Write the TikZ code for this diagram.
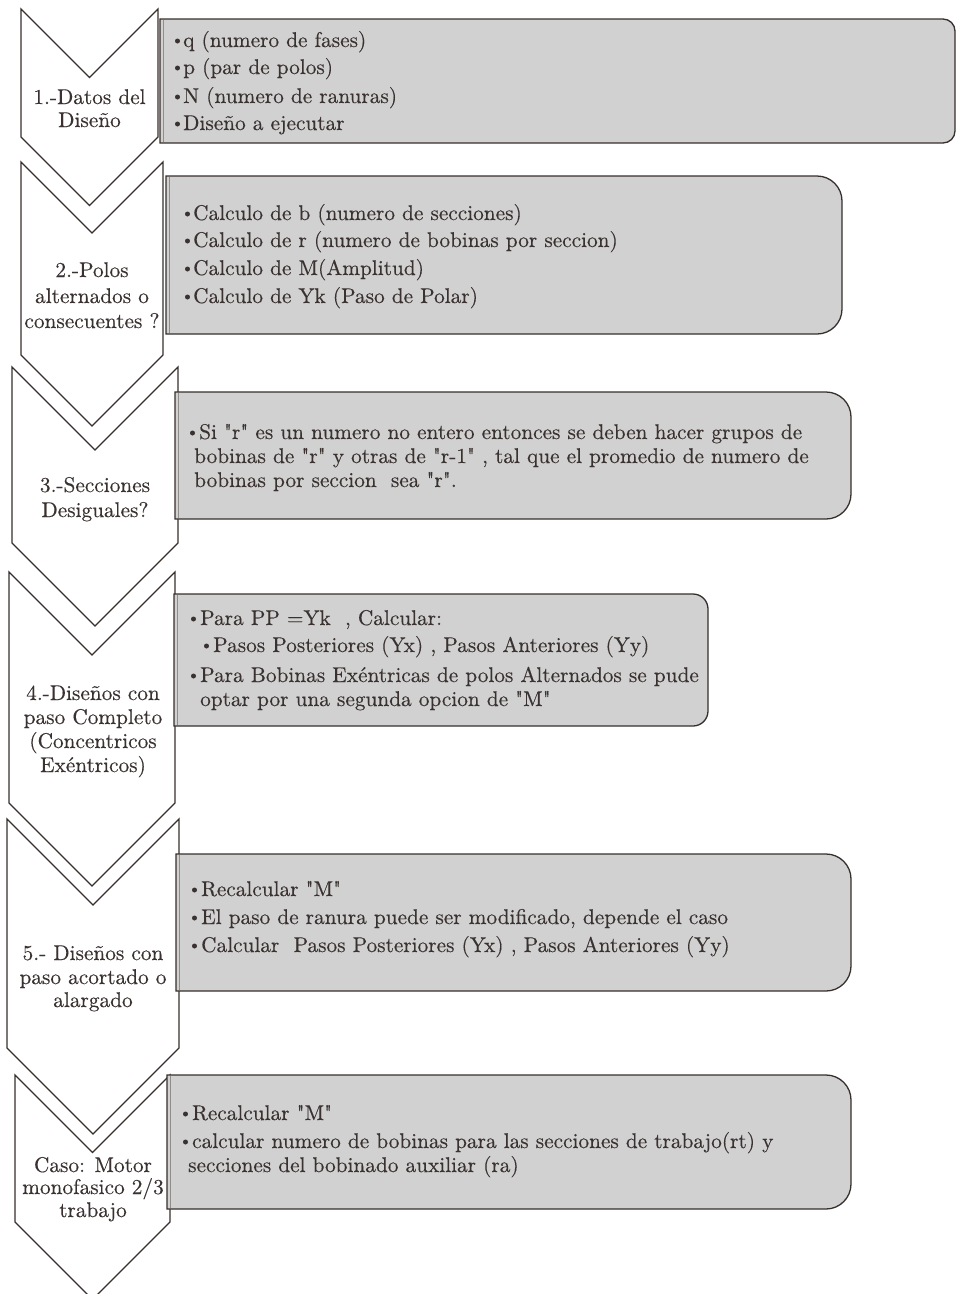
\documentclass[tikz,border=0pt]{standalone}
\usepackage{fontspec}
\setmainfont{lmroman10-regular.otf}[Ligatures=TeXOff, FakeBold=0.3]
\definecolor{textc}{RGB}{58,50,48}
\definecolor{linec}{RGB}{55,47,44}
\definecolor{boxfill}{RGB}{209,209,209}
\tikzset{
  chev/.style={draw=linec, line width=1.3pt, line join=miter, fill=white},
  gbox/.style={draw=linec, line width=1.3pt, fill=boxfill},
  ledge/.style={draw=linec!55, line width=0.9pt},
  dotb/.style={fill=textc},
  bt/.style={anchor=base west, inner sep=0pt, text=textc, font=\fontsize{21.3}{25}\selectfont},
  lbl/.style={anchor=base, inner sep=0pt, text=textc, font=\fontsize{21.3}{25}\selectfont},
}
\begin{document}
\begin{tikzpicture}[x=1pt,y=1pt]
\useasboundingbox (0,0) rectangle (957,-1294);
% chevrons
\draw[chev] (21,-9) -- (89.5,-77.5) -- (158,-9) -- (158,-137) -- (89.5,-205.5) -- (21,-137) -- cycle;
\draw[chev] (21,-162) -- (92,-233) -- (163,-162) -- (163,-355) -- (92,-426) -- (21,-355) -- cycle;
\draw[chev] (12,-367) -- (95,-450) -- (178,-367) -- (178,-543) -- (95,-626) -- (12,-543) -- cycle;
\draw[chev] (9,-572) -- (92,-655) -- (175,-572) -- (175,-803) -- (92,-886) -- (9,-803) -- cycle;
\draw[chev] (7,-819) -- (93,-905) -- (179,-819) -- (179,-1048) -- (93,-1134) -- (7,-1048) -- cycle;
\draw[chev] (15,-1075) -- (92.5,-1152.5) -- (170,-1075) -- (170,-1222) -- (92.5,-1299.5) -- (15,-1222) -- cycle;
% chevron labels
\node[lbl] (c1a) at (89.5,-104) {1.-Datos del};
\node[lbl] (c1b) at (89.5,-127) {Diseño};
\node[lbl] (c2a) at (92,-277) {2.-Polos};
\node[lbl] (c2b) at (92,-303) {alternados o};
\node[lbl] (c2c) at (92,-328) {consecuentes ?};
\node[lbl] (c3a) at (95,-492) {3.-Secciones};
\node[lbl] (c3b) at (95,-517) {Desiguales?};
\node[lbl] (c4a) at (93,-700) {4.-Diseños con};
\node[lbl] (c4b) at (93,-724) {paso Completo};
\node[lbl] (c4c) at (93,-748) {(Concentricos};
\node[lbl] (c4d) at (93,-772) {Exéntricos)};
\node[lbl] (c5a) at (93,-960) {5.- Diseños con};
\node[lbl] (c5b) at (93,-984) {paso acortado o};
\node[lbl] (c5c) at (93,-1007) {alargado};
\node[lbl] (c6a) at (93,-1172) {Caso: Motor};
\node[lbl] (c6b) at (93,-1194) {monofasico 2/3};
\node[lbl] (c6c) at (93,-1217) {trabajo};
% boxes
\draw[gbox] (160,-19) -- (943,-19) arc[start angle=90,end angle=0,radius=12] -- (955,-131) arc[start angle=0,end angle=-90,radius=12] -- (160,-143) -- cycle;
\draw[ledge] (163,-20) -- (163,-142);
\draw[gbox] (166,-176) -- (817,-176) arc[start angle=90,end angle=0,radius=25] -- (842,-309) arc[start angle=0,end angle=-90,radius=25] -- (166,-334) -- cycle;
\draw[ledge] (169,-177) -- (169,-333);
\draw[gbox] (175,-392) -- (826,-392) arc[start angle=90,end angle=0,radius=25] -- (851,-494) arc[start angle=0,end angle=-90,radius=25] -- (175,-519) -- cycle;
\draw[ledge] (178,-393) -- (178,-518);
\draw[gbox] (174,-594) -- (693,-594) arc[start angle=90,end angle=0,radius=15] -- (708,-711) arc[start angle=0,end angle=-90,radius=15] -- (174,-726) -- cycle;
\draw[ledge] (177,-595) -- (177,-725);
\draw[gbox] (176,-854) -- (826,-854) arc[start angle=90,end angle=0,radius=25] -- (851,-966) arc[start angle=0,end angle=-90,radius=25] -- (176,-991) -- cycle;
\draw[ledge] (179,-855) -- (179,-990);
\draw[gbox] (167,-1075) -- (826,-1075) arc[start angle=90,end angle=0,radius=25] -- (851,-1184) arc[start angle=0,end angle=-90,radius=25] -- (167,-1209) -- cycle;
\draw[ledge] (170,-1076) -- (170,-1208);
% bullets
\foreach \y in {41,68,97,124} \fill[dotb] (177.5,-\y) circle (2.5);
\foreach \y in {214,241,269,297} \fill[dotb] (187.5,-\y) circle (2.5);
\fill[dotb] (192.5,-433) circle (2.5);
\foreach \y in {619,676} \fill[dotb] (193.5,-\y) circle (2.5);
\fill[dotb] (206.5,-646) circle (2.5);
\foreach \y in {890,918,946} \fill[dotb] (194.5,-\y) circle (2.5);
\foreach \y in {1114,1142} \fill[dotb] (185.5,-\y) circle (2.5);
% box texts
\node[bt] (b1a) at (183,-47) {q (numero de fases)};
\node[bt] (b1b) at (183,-74) {p (par de polos)};
\node[bt] (b1c) at (183,-103) {N (numero de ranuras)};
\node[bt] (b1d) at (183,-130) {Diseño a ejecutar};
\node[bt] (b2a) at (193,-220) {Calculo de b (numero de secciones)};
\node[bt] (b2b) at (193,-247) {Calculo de r (numero de bobinas por seccion)};
\node[bt] (b2c) at (193,-275) {Calculo de M(Amplitud)};
\node[bt] (b2d) at (193,-303) {Calculo de Yk (Paso de Polar)};
\node[bt] (b3a) at (199,-439) {Si "r" es un numero no entero entonces se deben hacer grupos de};
\node[bt] (b3b) at (194,-463) {bobinas de "r" y otras de "r-1" , tal que el promedio de numero de};
\node[bt] (b3c) at (194,-487) {bobinas por seccion\ \ sea "r".};
\node[bt] (b4a) at (200,-625) {Para PP =Yk\ \ , Calcular:};
\node[bt] (b4b) at (213,-652) {Pasos Posteriores (Yx) , Pasos Anteriores (Yy)};
\node[bt] (b4c) at (200,-682) {Para Bobinas Exéntricas de polos Alternados se pude};
\node[bt] (b4d) at (200,-706) {optar por una segunda opcion de "M"};
\node[bt] (b5a) at (201,-896) {Recalcular "M"};
\node[bt] (b5b) at (201,-924) {El paso de ranura puede ser modificado, depende el caso};
\node[bt] (b5c) at (201,-952) {Calcular\ \ Pasos Posteriores (Yx) , Pasos Anteriores (Yy)};
\node[bt] (b6a) at (192,-1120) {Recalcular "M"};
\node[bt] (b6b) at (192,-1148) {calcular numero de bobinas para las secciones de trabajo(rt) y};
\node[bt] (b6c) at (188,-1172) {secciones del bobinado auxiliar (ra)};
\end{tikzpicture}
\end{document}
